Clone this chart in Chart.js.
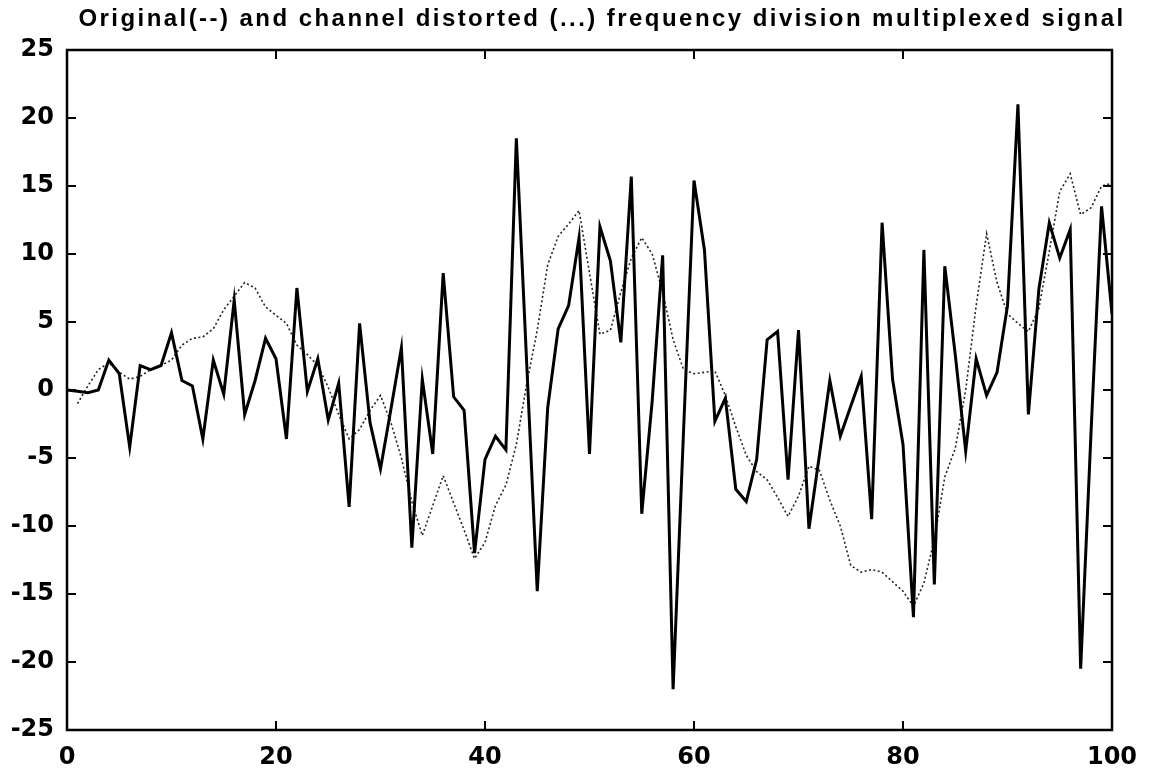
<!DOCTYPE html>
<html>
<head>
<meta charset="utf-8">
<script src="https://cdn.jsdelivr.net/npm/chart.js@4.4.1/dist/chart.umd.min.js"></script>
<style>
  html, body { margin: 0; padding: 0; background: #fff; }
  #wrap { position: relative; width: 1157px; height: 769px; }
  #title {
    position: absolute; left: 0; top: 4px; width: 1204px; text-align: center;
    font: bold 24px "Liberation Sans", Arial, sans-serif; color: #000;
    letter-spacing: 2.45px; white-space: nowrap;
  }
</style>
</head>
<body>
<div id="wrap">
  <canvas id="chart"></canvas>
  <div id="title">Original(--) and channel distorted (...) frequency division multiplexed signal</div>
</div>
<script>
  // sample values, one per x = 0..100
  const original = [
    0.0, -0.1, -0.2, 0.0, 2.2, 1.2, -4.2, 1.8, 1.5, 1.8,
    4.2, 0.7, 0.3, -3.6, 2.2, -0.3, 6.6, -1.8, 0.7, 3.8,
    2.3, -3.6, 7.5, -0.1, 2.3, -2.2, 0.5, -8.6, 4.9, -2.4,
    -5.8, -1.4, 3.1, -11.6, 0.8, -4.7, 8.6, -0.5, -1.5, -12.0,
    -5.1, -3.4, -4.4, 18.5, 1.8, -14.8, -1.3, 4.5, 6.2, 11.2,
    -4.7, 12.0, 9.5, 3.5, 15.7, -9.1, -0.8, 9.9, -22.0, -3.0,
    15.4, 10.3, -2.3, -0.6, -7.3, -8.2, -5.1, 3.7, 4.3, -6.6,
    4.4, -10.2, -4.8, 0.7, -3.4, -1.2, 1.0, -9.5, 12.3, 0.8,
    -4.0, -16.7, 10.3, -14.3, 9.1, 2.6, -4.5, 2.3, -0.4, 1.3,
    6.2, 21.0, -1.8, 7.4, 12.3, 9.7, 11.8, -20.5, -3.0, 13.5,
    5.6
  ];

  // distorted signal has no sample at x = 0
  const distorted = [
    null, -1.0, 0.3, 1.5, 2.0, 1.3, 0.8, 1.0, 1.5, 1.8,
    2.2, 3.3, 3.8, 3.9, 4.5, 5.9, 6.9, 7.9, 7.5, 6.1,
    5.5, 4.9, 3.3, 2.6, 1.8, 0.2, -1.8, -3.6, -2.9, -1.5,
    -0.4, -2.4, -5.0, -8.2, -10.7, -8.5, -6.3, -8.3, -10.3, -12.4,
    -11.2, -8.5, -7.0, -4.0, 0.5, 4.4, 9.2, 11.3, 12.2, 13.2,
    8.6, 4.1, 4.4, 7.2, 9.7, 11.2, 10.0, 7.2, 3.7, 1.5,
    1.2, 1.3, 1.4, -0.4, -2.7, -4.8, -6.0, -6.6, -7.9, -9.3,
    -7.8, -5.6, -5.9, -8.1, -10.0, -12.9, -13.4, -13.2, -13.4, -14.1,
    -14.8, -15.9, -14.2, -11.0, -6.4, -4.3, 0.0, 6.2, 11.5, 7.9,
    5.6, 4.9, 4.3, 6.0, 10.2, 14.6, 15.9, 12.9, 13.4, 15.0,
    15.2
  ];

  const xRange = [0, 100];
  const xStep = 20;
  const yRange = [-25, 25];
  const yStep = 5;

  const toPoints = (arr) => arr.map((v, i) => ({ x: i, y: v }));

  // inward tick marks and top/right frame, like the old matlab box
  const frame = {
    id: "frame",
    afterDraw(chart) {
      const { ctx, chartArea: a, scales } = chart;
      ctx.save();
      ctx.strokeStyle = "#000";
      ctx.lineWidth = 2.5;
      ctx.strokeRect(a.left, a.top, a.right - a.left, a.bottom - a.top);
      ctx.lineWidth = 2;
      const len = 9;
      ctx.beginPath();
      scales.x.ticks.forEach((t, i) => {
        const px = scales.x.getPixelForTick(i);
        ctx.moveTo(px, a.bottom); ctx.lineTo(px, a.bottom - len);
        ctx.moveTo(px, a.top); ctx.lineTo(px, a.top + len);
      });
      scales.y.ticks.forEach((t, i) => {
        const py = scales.y.getPixelForTick(i);
        ctx.moveTo(a.left, py); ctx.lineTo(a.left + len, py);
        ctx.moveTo(a.right, py); ctx.lineTo(a.right - len, py);
      });
      ctx.stroke();
      ctx.restore();
    }
  };

  const tickFont = { family: "'DejaVu Sans', sans-serif", size: 24, weight: "bold" };

  new Chart(document.getElementById("chart"), {
    type: "line",
    data: {
      datasets: [
        {
          label: "Original",
          data: toPoints(original),
          borderColor: "#000",
          borderWidth: 3,
          pointRadius: 0,
          tension: 0,
        },
        {
          label: "Channel distorted",
          data: toPoints(distorted),
          borderColor: "#222",
          borderWidth: 1.6,
          borderDash: [2, 2.5],
          pointRadius: 0,
          tension: 0,
        },
      ],
    },
    options: {
      responsive: true,
      maintainAspectRatio: false,
      animation: false,
      layout: { padding: { top: 50, right: 45, left: 0, bottom: 0 } },
      plugins: {
        legend: { display: false },
        title: { display: false },
        tooltip: { enabled: false },
      },
      scales: {
        x: {
          type: "linear",
          min: xRange[0],
          max: xRange[1],
          grid: { display: false, drawTicks: false },
          border: { display: false },
          ticks: { stepSize: xStep, color: "#000", font: tickFont, padding: 13, maxRotation: 0 },
          afterFit(s) { s.height = 39; },
        },
        y: {
          min: yRange[0],
          max: yRange[1],
          grid: { display: false, drawTicks: false },
          border: { display: false },
          ticks: { stepSize: yStep, color: "#000", font: tickFont, padding: 13 },
          afterFit(s) { s.width = 67; },
        },
      },
    },
    plugins: [frame],
  });
</script>
</body>
</html>
